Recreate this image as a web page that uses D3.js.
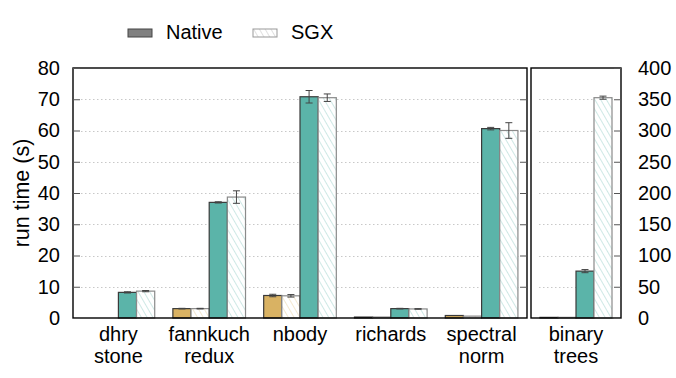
<!DOCTYPE html>
<html>
<head>
<meta charset="utf-8">
<script src="https://cdn.jsdelivr.net/npm/d3@7"></script>
<style>
  body { margin: 0; background: #fff; }
  text { font-family: "Liberation Sans", Arial, sans-serif; fill: #000; }
</style>
</head>
<body>
<script>
// left panel benchmarks (0-80 s), right panel binary trees (0-400 s)
const leftCategories = [['dhry', 'stone'], ['fannkuch', 'redux'], ['nbody'], ['richards'], ['spectral', 'norm']]
const rightCategories = [['binary', 'trees']]

const series = ['aNative', 'aSgx', 'bNative', 'bSgx']
const seriesColor = { aNative: '#d9b263', aSgx: '#d9b263', bNative: '#5bb4a9', bSgx: '#5bb4a9' }

// values per series for the left panel
const leftANative = [0, 3.0, 7.2, 0.3, 0.8]
const leftASgx = [0, 3.0, 7.1, 0.3, 0.6]
const leftBNative = [8.2, 37.0, 70.8, 3.0, 60.6]
const leftBSgx = [8.6, 38.7, 70.5, 2.9, 60.0]
const leftBNativeErr = [0.2, 0.2, 2.0, 0.1, 0.4]
const leftBSgxErr = [0.2, 2.0, 1.2, 0.1, 2.5]
const leftAErr = [0, 0.1, 0.4, 0, 0]

// right panel
const rightANative = [1.0]
const rightASgx = [1.0]
const rightBNative = [75]
const rightBSgx = [352.5]
const rightBNativeErr = [2.5]
const rightBSgxErr = [2.5]

const leftTicks = [0, 10, 20, 30, 40, 50, 60, 70, 80]
const rightTicks = [0, 50, 100, 150, 200, 250, 300, 350, 400]

const W = 676, H = 378
const plotTop = 68, plotBottom = 318
const leftX0 = 73, leftX1 = 527
const rightX0 = 531, rightX1 = 621
const fontSize = 20

const svg = d3.select('body').append('svg')
  .attr('width', W).attr('height', H)
  .attr('xmlns', 'http://www.w3.org/2000/svg')

const defs = svg.append('defs')
function hatch(id, color) {
  const p = defs.append('pattern')
    .attr('id', id).attr('patternUnits', 'userSpaceOnUse')
    .attr('width', 5).attr('height', 5)
    .attr('patternTransform', 'rotate(-30)')
  p.append('rect').attr('width', 5).attr('height', 5).attr('fill', '#fff')
  p.append('line').attr('x1', 0).attr('y1', 0).attr('x2', 0).attr('y2', 5)
    .attr('stroke', color).attr('stroke-width', 1.1).attr('opacity', 0.55)
}
hatch('hatchA', '#d9b263')
hatch('hatchB', '#5bb4a9')
hatch('hatchGray', '#999')

const yLeft = d3.scaleLinear().domain([0, 80]).range([plotBottom, plotTop])
const yRight = d3.scaleLinear().domain([0, 400]).range([plotBottom, plotTop])

function rows(cats, an, as, bn, bs, ae, bne, bse) {
  return cats.map((c, i) => ({
    cat: c.join(' '), lines: c,
    vals: { aNative: an[i], aSgx: as[i], bNative: bn[i], bSgx: bs[i] },
    errs: { aNative: ae ? ae[i] : 0, aSgx: ae ? ae[i] : 0, bNative: bne[i], bSgx: bse[i] }
  }))
}
const leftRows = rows(leftCategories, leftANative, leftASgx, leftBNative, leftBSgx, leftAErr, leftBNativeErr, leftBSgxErr)
const rightRows = rows(rightCategories, rightANative, rightASgx, rightBNative, rightBSgx, null, rightBNativeErr, rightBSgxErr)

function drawPanel(data, x0, x1, y, ticks) {
  const g = svg.append('g')
  const x = d3.scaleBand().domain(data.map(d => d.cat)).range([x0, x1]).paddingInner(0).paddingOuter(0)
  const bw = x.bandwidth()
  const inner = d3.scaleBand().domain(series).range([bw * 0.1, bw * 0.9])

  // gridlines
  g.selectAll('line.grid').data(ticks.slice(1, -1)).enter().append('line')
    .attr('x1', x0 + 8).attr('x2', x1 - 8)
    .attr('y1', d => Math.round(y(d)) + 0.5).attr('y2', d => Math.round(y(d)) + 0.5)
    .attr('stroke', '#c8c8c8').attr('stroke-width', 1).attr('stroke-dasharray', '1.5,2.5')

  // bars
  const grp = g.selectAll('g.grp').data(data).enter().append('g')
    .attr('transform', d => `translate(${x(d.cat)},0)`)
  grp.selectAll('rect').data(d => series.map(s => ({ s, v: d.vals[s], e: d.errs[s] })).filter(o => o.v > 0))
    .enter().append('rect')
    .attr('x', o => inner(o.s))
    .attr('width', inner.bandwidth())
    .attr('y', o => y(o.v))
    .attr('height', o => y(0) - y(o.v))
    .attr('fill', o => o.s === 'aNative' || o.s === 'bNative' ? seriesColor[o.s] : (o.s === 'aSgx' ? 'url(#hatchA)' : 'url(#hatchB)'))
    .attr('stroke', o => o.s.endsWith('Sgx') ? '#8a8a8a' : '#3a3a3a')
    .attr('stroke-width', 1.2)

  // error bars
  const eb = grp.selectAll('g.err').data(d => series.map(s => ({ s, v: d.vals[s], e: d.errs[s] })).filter(o => o.v > 0 && o.e > 0))
    .enter().append('g')
    .attr('stroke', '#444').attr('stroke-width', 1)
  eb.append('line')
    .attr('x1', o => inner(o.s) + inner.bandwidth() / 2).attr('x2', o => inner(o.s) + inner.bandwidth() / 2)
    .attr('y1', o => y(o.v - o.e)).attr('y2', o => y(o.v + o.e))
  ;[-1, 1].forEach(k => {
    eb.append('line')
      .attr('x1', o => inner(o.s) + inner.bandwidth() / 2 - 3.5).attr('x2', o => inner(o.s) + inner.bandwidth() / 2 + 3.5)
      .attr('y1', o => y(o.v + k * o.e)).attr('y2', o => y(o.v + k * o.e))
  })

  // frame
  g.append('rect').attr('x', x0).attr('y', plotTop).attr('width', x1 - x0).attr('height', plotBottom - plotTop)
    .attr('fill', 'none').attr('stroke', '#000').attr('stroke-width', 1.4)

  // category labels
  const lab = g.selectAll('text.cat').data(data).enter().append('text')
    .attr('text-anchor', 'middle').attr('font-size', fontSize)
    .attr('x', d => x(d.cat) + bw / 2).attr('y', 341)
  lab.selectAll('tspan').data(d => d.lines).enter().append('tspan')
    .attr('x', function () { return d3.select(this.parentNode).attr('x') })
    .attr('dy', (d, i) => i === 0 ? 0 : 21.5)
    .text(d => d)
  return x
}

drawPanel(leftRows, leftX0, leftX1, yLeft, leftTicks)
drawPanel(rightRows, rightX0, rightX1, yRight, rightTicks)

// left axis: ticks inside, mirrored on right edge of left panel
const axL = svg.append('g').attr('transform', `translate(${leftX0},0)`)
  .call(d3.axisLeft(yLeft).tickValues(leftTicks).tickSize(-7).tickPadding(13))
axL.select('.domain').remove()
axL.selectAll('.tick line').attr('stroke', '#555')
axL.selectAll('text').attr('font-size', fontSize).attr('font-family', '"Liberation Sans", Arial, sans-serif')
const axLm = svg.append('g').attr('transform', `translate(${leftX1},0)`)
  .call(d3.axisRight(yLeft).tickValues(leftTicks.slice(1, -1)).tickSize(-7).tickFormat(''))
axLm.select('.domain').remove()
axLm.selectAll('.tick line').attr('stroke', '#555')

// right axis
const axR = svg.append('g').attr('transform', `translate(${rightX1},0)`)
  .call(d3.axisRight(yRight).tickValues(rightTicks).tickSize(-7).tickPadding(17))
axR.select('.domain').remove()
axR.selectAll('.tick line').attr('stroke', '#555')
axR.selectAll('text').attr('font-size', fontSize).attr('font-family', '"Liberation Sans", Arial, sans-serif')

// y title
svg.append('text').attr('transform', `translate(29,${(plotTop + plotBottom) / 2}) rotate(-90)`)
  .attr('text-anchor', 'middle').attr('font-size', 21.5).text('run time (s)')

// legend
const legend = [{ label: 'Native', fill: '#808080', stroke: '#444', x: 128 }, { label: 'SGX', fill: 'url(#hatchGray)', stroke: '#999', x: 253 }]
const lg = svg.selectAll('g.leg').data(legend).enter().append('g')
  .attr('transform', d => `translate(${d.x},29)`)
lg.append('rect').attr('width', 24).attr('height', 8)
  .attr('fill', d => d.fill).attr('stroke', d => d.stroke).attr('stroke-width', 1)
lg.append('text').attr('x', 38).attr('y', 10).attr('font-size', fontSize).text(d => d.label)
</script>
</body>
</html>
